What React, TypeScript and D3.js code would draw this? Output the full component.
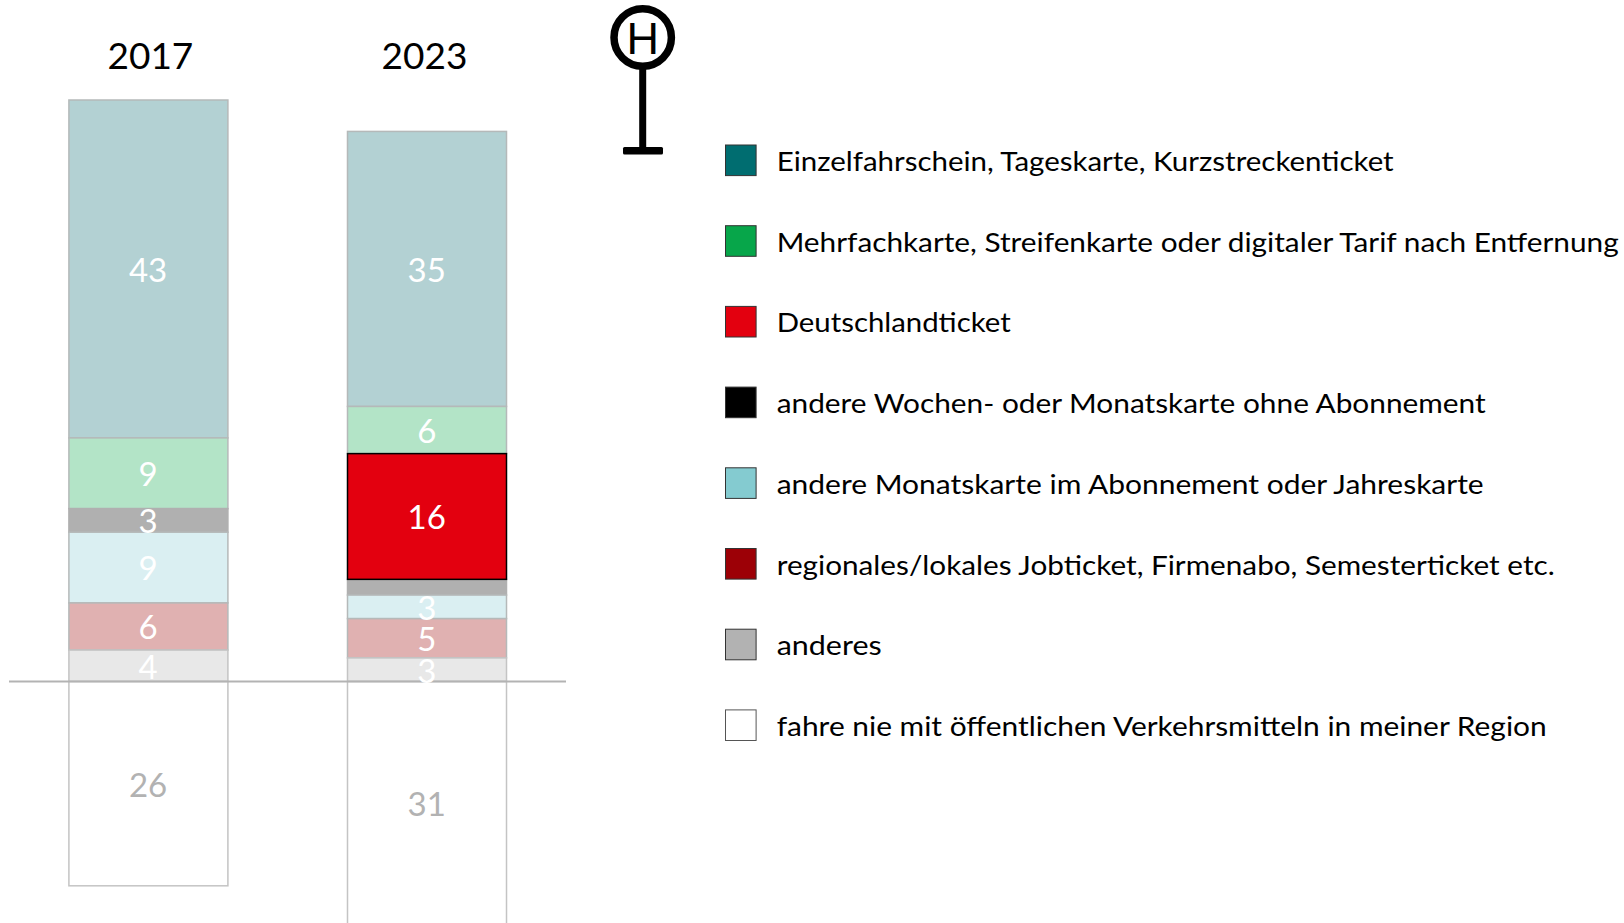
import React from "react";
import * as d3 from "d3";

const years = ["2017", "2023"];
const seriesNames = [
  "Einzelfahrschein, Tageskarte, Kurzstreckenticket",
  "Mehrfachkarte, Streifenkarte oder digitaler Tarif nach Entfernung",
  "Deutschlandticket",
  "andere Wochen- oder Monatskarte ohne Abonnement",
  "andere Monatskarte im Abonnement oder Jahreskarte",
  "regionales/lokales Jobticket, Firmenabo, Semesterticket etc.",
  "anderes",
  "fahre nie mit öffentlichen Verkehrsmitteln in meiner Region",
];
const values2017 = [43, 9, 0, 3, 9, 6, 4, 26];
const values2023 = [35, 6, 16, 2, 3, 5, 3, 31];
const legendColors = ["#006d70", "#07a64a", "#e3000f", "#000000", "#84cbd0", "#9c0006", "#b2b2b2", "#ffffff"];
const barColors = ["#b3d1d3", "#b3e4c7", "#e3000f", "#b0b0b0", "#daeff2", "#e0b1b1", "#e8e8e8", "#ffffff"];
const barStrokes = ["#b5b9b9", "#b5b9b9", "#000000", "#b0b0b0", "#b5b9b9", "#b5b9b9", "#c4c4c4", "#c4c4c4"];
const labelColors = ["#ffffff", "#ffffff", "#ffffff", "#ffffff", "#ffffff", "#ffffff", "#ffffff", "#b2b2b2"];
const legendWidths = [617, 842, 234, 709, 707, 778, 105, 770];
const hiddenBelow = 3;

const WIDTH = 1624;
const HEIGHT = 923;
const FONT = "Lato, 'Open Sans', sans-serif";
const BAR_WIDTH = 159;

const x = d3.scalePoint<string>().domain(years).range([148.4, 427]);
const y = d3.scaleLinear().domain([0, 74]).range([681.5, 100]);
const legendY = d3.scalePoint<string>().domain(seriesNames).range([160.3, 725.2]);

function stackFor(values: number[]) {
  const positive = values.slice(0, 7);
  const sums = positive.map((_, i) => d3.sum(positive.slice(i)));
  return values.map((v, i) =>
    i < 7
      ? { v, i, y0: sums[i] - v, y1: sums[i] }
      : { v, i, y0: -v, y1: 0 },
  );
}

const columns = [values2017, values2023];

export default function App() {
  return (
    <svg
      width={WIDTH}
      height={HEIGHT}
      viewBox={`0 0 ${WIDTH} ${HEIGHT}`}
      style={{ position: "fixed", left: 0, top: 0, background: "#fff", display: "block" }}
    >
      {years.map((yr, c) => (
        <text
          key={yr}
          x={(x(yr) as number) + (c === 0 ? 2 : -2.5)}
          y={69}
          textAnchor="middle"
          fontFamily={FONT}
          fontSize={37}
          fill="#000"
        >
          {yr}
        </text>
      ))}

      {years.map((yr, c) => {
        const cx = x(yr) as number;
        return (
          <g key={yr}>
            {stackFor(columns[c])
              .filter((d) => d.v > 0)
              .slice()
              .sort((a, b) => (a.i === 2 ? 1 : b.i === 2 ? -1 : 0))
              .map((d) => (
                <rect
                  key={d.i}
                  x={cx - BAR_WIDTH / 2}
                  y={y(d.y1)}
                  width={BAR_WIDTH}
                  height={y(d.y0) - y(d.y1)}
                  fill={barColors[d.i]}
                  stroke={barStrokes[d.i]}
                  strokeWidth={1.5}
                />
              ))}
          </g>
        );
      })}

      <line x1={9} x2={566} y1={y(0)} y2={y(0)} stroke="#b3b3b3" strokeWidth={2} />

      {years.map((yr, c) => {
        const cx = x(yr) as number;
        return (
          <g key={yr}>
            {stackFor(columns[c])
              .filter((d) => d.v >= hiddenBelow)
              .map((d) => (
                <text
                  key={d.i}
                  x={cx - 0.3}
                  y={(y(d.y0) + y(d.y1)) / 2 + 1}
                  dy="0.36em"
                  textAnchor="middle"
                  fontFamily={FONT}
                  fontSize={33}
                  fill={labelColors[d.i]}
                >
                  {d.v}
                </text>
              ))}
          </g>
        );
      })}

      <g>
        <circle cx={642.7} cy={37.5} r={28.7} fill="#fff" stroke="#000" strokeWidth={7.5} />
        <text
          x={642.7}
          y={54}
          textAnchor="middle"
          fontFamily="'Liberation Sans', Arial, sans-serif"
          fontSize={45}
          fill="#000"
        >
          H
        </text>
        <line x1={642.7} x2={642.7} y1={68} y2={150} stroke="#000" strokeWidth={7} />
        <rect x={623} y={147} width={40} height={7.5} rx={1.5} fill="#000" />
      </g>

      {seriesNames.map((name, i) => {
        const ly = legendY(name) as number;
        return (
          <g key={name}>
            <rect
              x={725.5}
              y={ly - 15.3}
              width={30.6}
              height={30.6}
              fill={legendColors[i]}
              stroke={i === 7 ? "#555" : "#333"}
              strokeWidth={1}
            />
            <text
              x={776.7}
              y={ly + 10.7}
              fontFamily={FONT}
              fontSize={27.5}
              fill="#000"
              textLength={legendWidths[i]}
              lengthAdjust="spacingAndGlyphs"
            >
              {name}
            </text>
          </g>
        );
      })}
    </svg>
  );
}
